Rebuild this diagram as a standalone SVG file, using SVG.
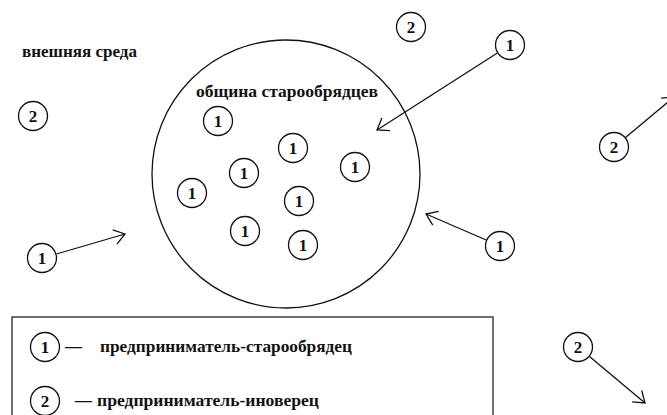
<svg xmlns="http://www.w3.org/2000/svg" width="667" height="415" viewBox="0 0 667 415">
<style>
.n circle{fill:#fff;stroke:#111;stroke-width:1.3}
.n text{font-family:"Liberation Serif","Times New Roman",serif;font-weight:bold;font-size:17px;text-anchor:middle;fill:#111}
.lbl{font-family:"Liberation Serif","Times New Roman",serif;font-weight:bold;font-size:17px;fill:#111}
.c line{stroke:#111;stroke-width:1.3}
</style>
<defs>
<marker id="ah" markerUnits="userSpaceOnUse" viewBox="-14 -10 16 20" refX="0" refY="0" markerWidth="16" markerHeight="20" orient="auto" overflow="visible">
<path d="M-10.6,-7.5 L0,0 L-10.6,7.5" fill="none" stroke="#111" stroke-width="1.3"/>
</marker>
</defs>
<rect width="667" height="415" fill="#fff"/>
<g id="community">
<circle cx="286" cy="174" r="134" fill="none" stroke="#111" stroke-width="1.3"/>
<text class="lbl" x="196" y="97" textLength="182" lengthAdjust="spacingAndGlyphs">община старообрядцев</text>
</g>
<g id="environment">
<text class="lbl" x="22" y="57" textLength="115" lengthAdjust="spacingAndGlyphs">внешняя среда</text>
</g>
<g id="legend">
<rect x="12" y="317" width="481" height="130" fill="none" stroke="#222" stroke-width="1.3"/>
<g class="n"><circle cx="45" cy="347" r="14.5"/><text x="45" y="353">1</text></g>
<text class="lbl" x="65" y="352">—</text>
<text class="lbl" x="100" y="352" textLength="252" lengthAdjust="spacingAndGlyphs">предприниматель-старообрядец</text>
<g class="n"><circle cx="45" cy="401" r="14.5"/><text x="45" y="407">2</text></g>
<text class="lbl" x="75" y="406">—</text>
<text class="lbl" x="97" y="406" textLength="222" lengthAdjust="spacingAndGlyphs">предприниматель-иноверец</text>
</g>
<g id="connectors" class="c">
<line x1="497.4" y1="53" x2="377" y2="130" marker-end="url(#ah)"/>
<line x1="56.4" y1="254" x2="125" y2="234" marker-end="url(#ah)"/>
<line x1="486.2" y1="240" x2="426" y2="214" marker-end="url(#ah)"/>
<line x1="625.5" y1="137.5" x2="674" y2="97" marker-end="url(#ah)"/>
<line x1="589.5" y1="356.6" x2="645" y2="403" marker-end="url(#ah)"/>
</g>
<g id="n2a" class="n"><circle cx="411" cy="27" r="14.5"/><text x="411" y="33">2</text></g>
<g id="n1a" class="n"><circle cx="510" cy="45" r="14.5"/><text x="510" y="51">1</text></g>
<g id="n2b" class="n"><circle cx="33" cy="116" r="14.5"/><text x="33" y="122">2</text></g>
<g id="n2c" class="n"><circle cx="614" cy="147" r="14.5"/><text x="614" y="153">2</text></g>
<g id="n1b" class="n"><circle cx="218" cy="121" r="14.5"/><text x="218" y="127">1</text></g>
<g id="n1c" class="n"><circle cx="293" cy="148" r="14.5"/><text x="293" y="154">1</text></g>
<g id="n1d" class="n"><circle cx="355" cy="167" r="14.5"/><text x="355" y="173">1</text></g>
<g id="n1e" class="n"><circle cx="244" cy="173" r="14.5"/><text x="244" y="179">1</text></g>
<g id="n1f" class="n"><circle cx="192" cy="193" r="14.5"/><text x="192" y="199">1</text></g>
<g id="n1g" class="n"><circle cx="299" cy="201" r="14.5"/><text x="299" y="207">1</text></g>
<g id="n1h" class="n"><circle cx="245" cy="231" r="14.5"/><text x="245" y="237">1</text></g>
<g id="n1i" class="n"><circle cx="303" cy="245" r="14.5"/><text x="303" y="251">1</text></g>
<g id="n1j" class="n"><circle cx="42" cy="258" r="14.5"/><text x="42" y="264">1</text></g>
<g id="n1k" class="n"><circle cx="500" cy="246" r="14.5"/><text x="500" y="252">1</text></g>
<g id="n2d" class="n"><circle cx="578" cy="347" r="14.5"/><text x="578" y="353">2</text></g>
</svg>
